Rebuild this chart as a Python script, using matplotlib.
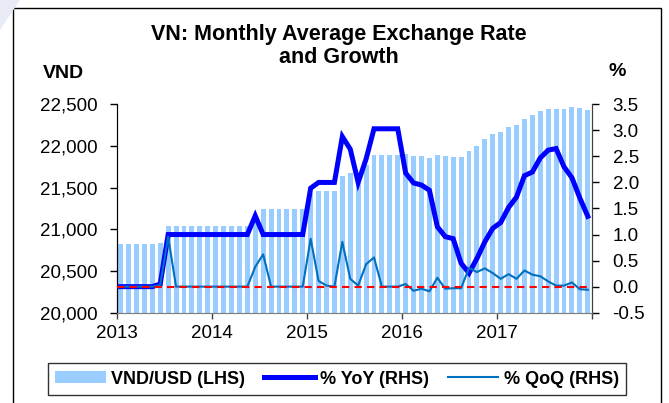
import numpy as np
import matplotlib
matplotlib.use('Agg')
import matplotlib.pyplot as plt
from matplotlib.patches import Rectangle, Polygon, Patch
from matplotlib.lines import Line2D
from matplotlib.ticker import FuncFormatter

plt.rcParams['font.family'] = ['Liberation Sans', 'DejaVu Sans']
plt.rcParams['axes.unicode_minus'] = False

# monthly data, Jan 2013 - Dec 2017
vnd_usd = [
    20828, 20828, 20828, 20828, 20828, 20840,
    21036, 21036, 21036, 21036, 21036, 21036,
    21036, 21036, 21036, 21036, 21036, 21120,
    21246, 21246, 21246, 21246, 21246, 21246,
    21435, 21458, 21458, 21458, 21640, 21673,
    21673, 21766, 21890, 21890, 21890, 21890,
    21900, 21884, 21876, 21856, 21892, 21880,
    21868, 21864, 21944, 22004, 22084, 22140,
    22172, 22224, 22252, 22324, 22372, 22420,
    22440, 22444, 22448, 22464, 22456, 22436,
]
yoy = [
    0.0, 0.0, 0.0, 0.0, 0.0, 0.05, 1.0, 1.0, 1.0, 1.0, 1.0, 1.0,
    1.0, 1.0, 1.0, 1.0, 1.0, 1.36, 1.0, 1.0, 1.0, 1.0, 1.0, 1.0,
    1.89, 2.0, 2.0, 2.0, 2.88, 2.64, 2.0, 2.45, 3.03, 3.03, 3.03, 3.03,
    2.18, 1.99, 1.95, 1.85, 1.15, 0.96, 0.92, 0.45, 0.26, 0.54, 0.86, 1.12,
    1.23, 1.52, 1.72, 2.13, 2.2, 2.47, 2.62, 2.65, 2.3, 2.09, 1.7, 1.35,
]
qoq = [
    0.0, 0.0, 0.0, 0.0, 0.0, 0.03, 0.96, 0.0, 0.0, 0.0, 0.0, 0.0,
    0.0, 0.0, 0.0, 0.0, 0.0, 0.38, 0.62, 0.0, 0.0, 0.0, 0.0, 0.0,
    0.92, 0.11, 0.02, 0.0, 0.86, 0.15, 0.02, 0.43, 0.56, 0.0, 0.0, 0.0,
    0.05, -0.08, -0.04, -0.09, 0.17, -0.04, -0.03, -0.03, 0.36, 0.28, 0.35, 0.26,
    0.15, 0.24, 0.15, 0.31, 0.23, 0.2, 0.1, 0.02, 0.02, 0.08, -0.05, -0.06,
]
years = ['2013', '2014', '2015', '2016', '2017', '']

x = np.arange(len(vnd_usd))

fig = plt.figure(figsize=(6.69, 4.03), dpi=100)
ax = fig.add_axes([0.1744, 0.2241, 0.8845 - 0.1744, 0.7412 - 0.2241])

ax.bar(x, vnd_usd, width=0.62, color='#99CCFF', edgecolor='none')
ax.set_xlim(-0.5, len(x) - 0.5)
ax.set_ylim(20000, 22500)
ax.set_yticks(np.arange(20000, 22501, 500))
ax.yaxis.set_major_formatter(FuncFormatter(lambda v, p: f'{int(v):,}'))
ax.set_xticks(np.arange(-0.5, len(x), 12))
ax.set_xticklabels(years)

ax2 = ax.twinx()
ax2.plot(x, yoy, color='#0000FF', lw=3.6, solid_joinstyle='miter', zorder=3)
ax2.plot(x, qoq, color='#0070C0', lw=1.5, zorder=4)
ax2.axhline(0, color='#FF0000', lw=1.5, ls=(0, (3.5, 2.5)), zorder=5)
ax2.set_ylim(-0.5, 3.5)
ax2.set_yticks(np.arange(-0.5, 3.51, 0.5))
ax2.yaxis.set_major_formatter(FuncFormatter(lambda v, p: f'{v:.1f}'))
ax2.set_xlim(-0.5, len(x) - 0.5)

for a in (ax, ax2):
    a.spines['top'].set_visible(False)
    a.spines['bottom'].set_color('#808080')
    a.spines['left'].set_color('black')
    a.spines['right'].set_color('#404040')
ax.tick_params(axis='y', direction='out', length=5, width=1, pad=9, labelsize=13.5)
ax.tick_params(axis='x', direction='out', length=4, width=1, pad=5, labelsize=13.5,
               color='#404040')
ax2.tick_params(axis='y', direction='out', length=5, width=1, pad=10, labelsize=13.5)

fig.text(339 / 669, 1 - 46 / 403, 'VN: Monthly Average Exchange Rate\nand Growth',
         ha='center', va='center', fontsize=15.5, fontweight='bold', linespacing=1.15)
fig.text(63 / 669, 1 - 73 / 403, 'VND', ha='center', va='center', fontsize=14,
         fontweight='bold')
fig.text(617 / 669, 1 - 72 / 403, '%', ha='center', va='center', fontsize=14,
         fontweight='bold')

handles = [Patch(facecolor='#99CCFF', edgecolor='none'),
           Line2D([], [], color='#0000FF', lw=3.6),
           Line2D([], [], color='#0070C0', lw=1.5)]
labels = ['VND/USD (LHS)', '% YoY (RHS)', '% QoQ (RHS)']
leg = fig.legend(handles, labels, loc='center', ncol=3,
                 bbox_to_anchor=(337 / 669, 1 - 379 / 403),
                 prop={'weight': 'bold', 'size': 13}, frameon=True, fancybox=False,
                 edgecolor='black', handlelength=2.8, handleheight=0.6,
                 handletextpad=0.3, columnspacing=1.05, borderpad=0.4)
leg.get_frame().set_linewidth(1.0)

# outer chart frame and faint corner decoration
fig.add_artist(Rectangle((13 / 669, -0.05), (660.5 - 13) / 669, 1.05 - 8 / 403,
                         transform=fig.transFigure, fill=False, ec='black', lw=1.0))
fig.add_artist(Polygon([(0, 1), (20 / 669, 1), (0, 1 - 30 / 403)], closed=True,
                       transform=fig.transFigure, fc='#E8EAF6', ec='none'))

fig.savefig('out.png', dpi=100)
